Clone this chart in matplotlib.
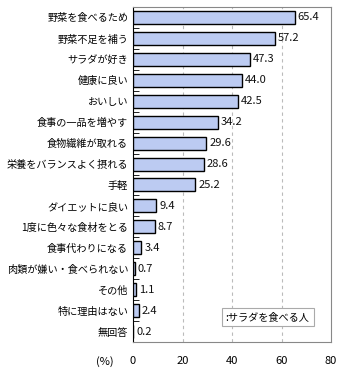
import matplotlib
matplotlib.use("Agg")
import matplotlib.pyplot as plt
from matplotlib.patches import Rectangle

plt.rcParams['font.family'] = ['Noto Sans CJK JP', 'DejaVu Sans']

categories = ["野菜を食べるため", "野菜不足を補う", "サラダが好き", "健康に良い", "おいしい",
              "食事の一品を増やす", "食物繊維が取れる", "栄養をバランスよく摂れる", "手軽",
              "ダイエットに良い", "1度に色々な食材をとる", "食事代わりになる",
              "肉類が嫌い・食べられない", "その他", "特に理由はない", "無回答"]
values = [65.4, 57.2, 47.3, 44.0, 42.5, 34.2, 29.6, 28.6, 25.2, 9.4, 8.7, 3.4, 0.7, 1.1, 2.4, 0.2]
xticks = [0, 20, 40, 60, 80]
legend_label = ":サラダを食べる人"

W, H = 340, 375
fig = plt.figure(figsize=(W/100, H/100), dpi=100)
ax = fig.add_axes([133/W, 1 - 342/H, (331-133)/W, (342-7)/H])

n = len(categories)
ys = list(range(n))
ax.barh(ys, values, height=0.62, color="#bccbf2", edgecolor="black", linewidth=1.0, zorder=3)
for y, v in zip(ys, values):
    ax.text(v + 1.2, y, f"{v:.1f}", va="center", ha="left", fontsize=8, color="#111111", zorder=4)

ax.set_ylim(n - 0.5, -0.5)
ax.set_xlim(0, 80)
ax.set_xticks(xticks)
ax.set_xticklabels([str(t) for t in xticks], fontsize=8)
ax.set_yticks([y + 0.5 for y in ys[:-1]], minor=True)
ax.set_yticks(ys)
ax.set_yticklabels(categories, fontsize=7.3)
ax.tick_params(axis='y', which='major', length=0, pad=3.5)
ax.tick_params(axis='y', which='minor', length=4, direction='in', color='black')
ax.tick_params(axis='x', length=0, pad=10)
for t in xticks[1:-1]:
    ax.axvline(t, color="#bbbbbb", linestyle=(0, (3, 3)), linewidth=0.8, zorder=1)

ax.spines['left'].set_color('black')
ax.spines['bottom'].set_color('#888888')
ax.spines['top'].set_color('#888888')
ax.spines['right'].set_color('#888888')

fig.text(105/W, 1 - 362/H, "(%)", fontsize=8, ha="center", va="center")

# legend box
lx0, lx1 = 222, 314
ly0, ly1 = 308, 326
fig.patches.append(Rectangle((lx0/W, 1 - ly1/H), (lx1-lx0)/W, (ly1-ly0)/H, transform=fig.transFigure,
                             facecolor="white", edgecolor="#aaaaaa", linewidth=0.8, zorder=5))
fig.text((lx0+3)/W, 1 - (ly0+ly1)/2/H, legend_label, fontsize=7.3, ha="left", va="center", zorder=6)

fig.savefig("out.png", dpi=100)
